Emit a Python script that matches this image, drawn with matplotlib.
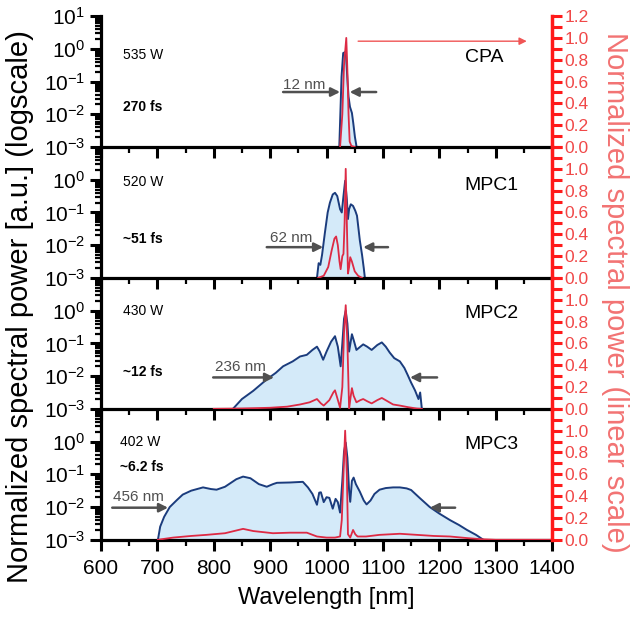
import numpy as np
import matplotlib
matplotlib.use("Agg")
import matplotlib.pyplot as plt
from matplotlib.ticker import FixedLocator, LogLocator, LogFormatterSciNotation, MultipleLocator, NullFormatter

plt.rcParams['font.family'] = ['Liberation Sans', 'DejaVu Sans']
plt.rcParams['mathtext.fontset'] = 'custom'
plt.rcParams['mathtext.rm'] = 'Liberation Sans'

# ---- data ----
# blue: log10 of normalized spectral power, red: linear normalized power
panel_names = ["CPA", "MPC1", "MPC2", "MPC3"]
powers = ["535 W", "520 W", "430 W", "402 W"]
durations = ["270 fs", "~51 fs", "~12 fs", "~6.2 fs"]
widths = ["12 nm", "62 nm", "236 nm", "456 nm"]

cpa_wl = [1022.6, 1026.6, 1029.5, 1034.2, 1036.7, 1039, 1041.5, 1045, 1047.4, 1050.3, 1053.3]
cpa_log = [-3.0, -0.85, -0.13, -0.09, -0.85, -1.46, -1.77, -1.96, -2.27, -2.69, -3.0]
cpa_lin_wl = [1024, 1028, 1031, 1035, 1037, 1039, 1041, 1044, 1050]
cpa_lin = [0.0, 0.3, 0.75, 1.0, 0.7, 0.3, 0.05, 0.01, 0.0]

mpc1_wl = [983, 986, 989, 992, 997, 1002, 1006, 1011, 1015, 1019, 1024, 1027, 1030, 1033,
           1036, 1038, 1040, 1043, 1047, 1051, 1054, 1059, 1063, 1066, 1068]
mpc1_log = [-3.0, -2.55, -2.6, -2.3, -1.63, -1.0, -0.7, -0.45, -0.4, -0.5, -0.9, -1.0, -0.5, -0.03,
            -0.6, -1.2, -0.9, -0.75, -0.8, -0.95, -1.1, -1.85, -2.3, -2.7, -3.0]
mpc1_lin_wl = [985, 995, 1003, 1009, 1014, 1017, 1020, 1023, 1025, 1028, 1030, 1032, 1034,
               1036, 1038, 1040, 1042, 1045, 1050, 1056, 1063]
mpc1_lin = [0.0, 0.02, 0.1, 0.25, 0.36, 0.38, 0.3, 0.15, 0.08, 0.2, 0.22, 0.5, 1.0,
            0.5, 0.04, 0.1, 0.19, 0.15, 0.06, 0.02, 0.0]

mpc2_wl = [834, 850, 870, 894, 910, 923, 940, 953, 965, 975, 983, 988, 994, 1000, 1008, 1015,
           1020, 1025, 1028, 1031, 1034, 1037, 1040, 1045, 1049, 1053, 1060, 1065, 1072, 1080,
           1090, 1098, 1105, 1112, 1120, 1130, 1138, 1144, 1150, 1157, 1163, 1166, 1169]
mpc2_log = [-3.0, -2.7, -2.45, -2.1, -1.9, -1.7, -1.55, -1.4, -1.35, -1.2, -1.1, -1.25, -1.5, -1.25,
            -0.95, -0.78, -1.1, -1.7, -1.0, -0.25, 0.0, -0.4, -1.25, -0.72, -0.95, -1.2, -1.1, -1.03,
            -1.1, -1.2, -1.05, -0.97, -1.1, -1.28, -1.45, -1.55, -1.75, -1.97, -2.2, -2.44, -2.7,
            -2.5, -3.0]
mpc2_lin_wl = [800, 850, 900, 930, 953, 970, 983, 990, 995, 1005, 1012, 1015, 1019, 1024, 1028,
               1031, 1034, 1037, 1040, 1043, 1045, 1048, 1053, 1060, 1065, 1072, 1080, 1090, 1098,
               1108, 1118, 1130, 1145, 1160, 1169]
mpc2_lin = [0.0, 0.003, 0.01, 0.02, 0.04, 0.06, 0.09, 0.05, 0.03, 0.08, 0.15, 0.17, 0.1, 0.01, 0.2,
            0.7, 0.95, 0.6, 0.0, 0.12, 0.19, 0.12, 0.06, 0.08, 0.09, 0.07, 0.05, 0.08, 0.10,
            0.07, 0.04, 0.03, 0.015, 0.003, 0.0]

mpc3_wl = [701, 705, 712, 722, 735, 745, 760, 781, 795, 805, 820, 840, 852, 865, 880, 894, 905,
           912, 935, 958, 967, 975, 983, 987, 990, 995, 1000, 1005, 1011, 1016, 1020, 1024, 1028,
           1031, 1034, 1037, 1040, 1042, 1045, 1048, 1052, 1059, 1066, 1071, 1078, 1085, 1094,
           1105, 1118, 1130, 1142, 1150, 1165, 1183, 1200, 1219, 1235, 1249, 1265, 1278]
mpc3_log = [-3.0, -2.6, -2.3, -2.0, -1.78, -1.62, -1.5, -1.4, -1.45, -1.47, -1.38, -1.15, -1.07,
            -1.12, -1.3, -1.38, -1.3, -1.26, -1.25, -1.23, -1.4, -1.6, -1.93, -1.56, -1.55, -1.85,
            -1.7, -1.72, -2.05, -1.75, -1.85, -2.17, -1.2, -0.3, -0.03, -0.5, -1.5, -1.84, -1.2,
            -1.1, -1.3, -1.53, -1.8, -1.92, -1.8, -1.6, -1.47, -1.42, -1.4, -1.4, -1.43, -1.48,
            -1.72, -2.0, -2.2, -2.4, -2.55, -2.7, -2.85, -3.0]
mpc3_lin_wl = [701, 728, 760, 787, 820, 852, 870, 905, 935, 965, 983, 1000, 1015, 1024, 1027,
               1030, 1033, 1036, 1038, 1042, 1047, 1051, 1055, 1070, 1094, 1130, 1160, 1190,
               1219, 1250, 1275, 1300, 1400]
mpc3_lin = [0.0, 0.02, 0.035, 0.045, 0.06, 0.10, 0.08, 0.06, 0.065, 0.065, 0.03, 0.02, 0.02, 0.03,
            0.18, 0.6, 1.0, 0.6, 0.05, 0.02, 0.09, 0.05, 0.03, 0.03, 0.045, 0.055, 0.045, 0.035,
            0.03, 0.015, 0.005, 0.0, 0.0]

log_data = [(cpa_wl, cpa_log), (mpc1_wl, mpc1_log), (mpc2_wl, mpc2_log), (mpc3_wl, mpc3_log)]
lin_data = [(cpa_lin_wl, cpa_lin), (mpc1_lin_wl, mpc1_lin), (mpc2_lin_wl, mpc2_lin), (mpc3_lin_wl, mpc3_lin)]

# annotation placement (x in nm, y as log10)
info_pos = [(639, -0.19, -1.78), (639, -0.06, -1.81), (639, 0.0, -1.88), (634, 0.0, -0.77)]
label_pos = [(1245, -0.25), (1245, -0.19), (1245, -0.09), (1245, -0.09)]
width_arrows = [  # text x, text y, right arrow (x0, x1), left arrow (x0, x1), arrow y
    (923, -1.1, (923, 1024), (1088, 1041), -1.32),
    (900, -1.78, (894, 994), (1109, 1065), -2.06),
    (802, -1.72, (799, 907), (1196, 1148), -2.04),
    (621, -1.69, (620, 719), (1228, 1183), -2.02),
]

blue = '#1b3c7d'
fill = '#d4eaf9'
red_line = '#dd2a44'
red_axis = '#ff1a1a'
red_text = '#f04848'
gray = '#505050'

fig = plt.figure(figsize=(6.31, 6.19), dpi=100)
axes = fig.subplots(4, 1, sharex=True)
fig.subplots_adjust(left=0.160, right=0.875, top=0.974, bottom=0.128, hspace=0)

for i, ax in enumerate(axes):
    ax.patch.set_visible(False)
    wl, lg = log_data[i]
    y = np.power(10.0, lg)
    ax.fill_between(wl, y, 1e-3, color=fill, lw=0)
    ax.plot(wl, y, color=blue, lw=1.4)
    ax.set_yscale('log')
    ax.set_ylim(1e-3, 10)
    ax.set_xlim(600, 1400)
    if i == 0:
        ax.yaxis.set_major_locator(FixedLocator([1e-3, 1e-2, 1e-1, 1e0, 1e1]))
    else:
        ax.yaxis.set_major_locator(FixedLocator([1e-3, 1e-2, 1e-1, 1e0]))
    ax.yaxis.set_major_formatter(LogFormatterSciNotation())
    ax.yaxis.set_minor_locator(LogLocator(base=10, subs=np.arange(2, 10), numticks=20))
    ax.yaxis.set_minor_formatter(NullFormatter())
    ax.xaxis.set_major_locator(MultipleLocator(100))
    ax.xaxis.set_minor_locator(MultipleLocator(50))
    for s in ['top', 'right']:
        ax.spines[s].set_visible(False)
    ax.spines['left'].set_linewidth(2.3)
    ax.spines['bottom'].set_linewidth(2.3)
    ax.tick_params(axis='both', which='major', direction='out', length=8, width=2.2,
                   labelsize=15, colors='black')
    ax.tick_params(axis='both', which='minor', direction='out', length=4.5, width=1.6)
    ax.tick_params(axis='x', labelsize=15, pad=6)
    if i < 3:
        ax.tick_params(axis='x', labelbottom=False)

    tw = ax.twinx()
    lw_, lv = lin_data[i]
    tw.plot(lw_, lv, color=red_line, lw=1.3)
    tw.set_ylim(0, 1.2)
    if i == 0:
        tw.yaxis.set_major_locator(FixedLocator(np.round(np.arange(0, 1.21, 0.2), 1)))
    else:
        tw.yaxis.set_major_locator(FixedLocator(np.round(np.arange(0, 1.01, 0.2), 1)))
    tw.yaxis.set_minor_locator(MultipleLocator(0.1))
    tw.yaxis.set_major_formatter(plt.FuncFormatter(lambda v, p: f"{v:.1f}"))
    for s in ['top', 'left', 'bottom']:
        tw.spines[s].set_visible(False)
    tw.spines['right'].set_color(red_axis)
    tw.spines['right'].set_linewidth(2.5)
    tw.tick_params(axis='y', which='major', direction='out', length=7, width=2.2,
                   color=red_axis, labelcolor=red_text, labelsize=12.5, pad=2)
    tw.tick_params(axis='y', which='minor', direction='out', length=7, width=2.2, color=red_axis)

    # text annotations
    tx, ty1, ty2 = info_pos[i]
    ax.text(tx, 10 ** ty1, powers[i], fontsize=10, ha='left', va='center')
    ax.text(tx, 10 ** ty2, durations[i], fontsize=10, ha='left', va='center', fontweight='bold')
    lx, ly = label_pos[i]
    ax.text(lx, 10 ** ly, panel_names[i], fontsize=14, ha='left', va='center')

    wx, wy, (r0, r1), (l0, l1), ay = width_arrows[i]
    ax.text(wx, 10 ** wy, widths[i], fontsize=11, color=gray, ha='left', va='center')
    ax.annotate('', xy=(r1, 10 ** ay), xytext=(r0, 10 ** ay),
                arrowprops=dict(arrowstyle='-|>', color=gray, lw=1.8, mutation_scale=13,
                                shrinkA=0, shrinkB=0))
    ax.annotate('', xy=(l1, 10 ** ay), xytext=(l0, 10 ** ay),
                arrowprops=dict(arrowstyle='-|>', color=gray, lw=1.8, mutation_scale=13,
                                shrinkA=0, shrinkB=0))

    if i == 0:
        tw.annotate('', xy=(1355, 0.97), xytext=(1056, 0.97),
                    arrowprops=dict(arrowstyle='-|>', color='#f05555', lw=1.0, mutation_scale=11,
                                    shrinkA=0, shrinkB=0))

fig.text(0.032, 0.505, "Normalized spectral power [a.u.] (logscale)", rotation=90,
         ha='center', va='center', fontsize=21)
fig.text(0.975, 0.528, "Normalized spectral power (linear scale)", rotation=270,
         ha='center', va='center', fontsize=21, color='#f27373')
fig.text(0.517, 0.034, "Wavelength [nm]", ha='center', va='center', fontsize=17)

fig.savefig("out.png", dpi=100, facecolor='white')
